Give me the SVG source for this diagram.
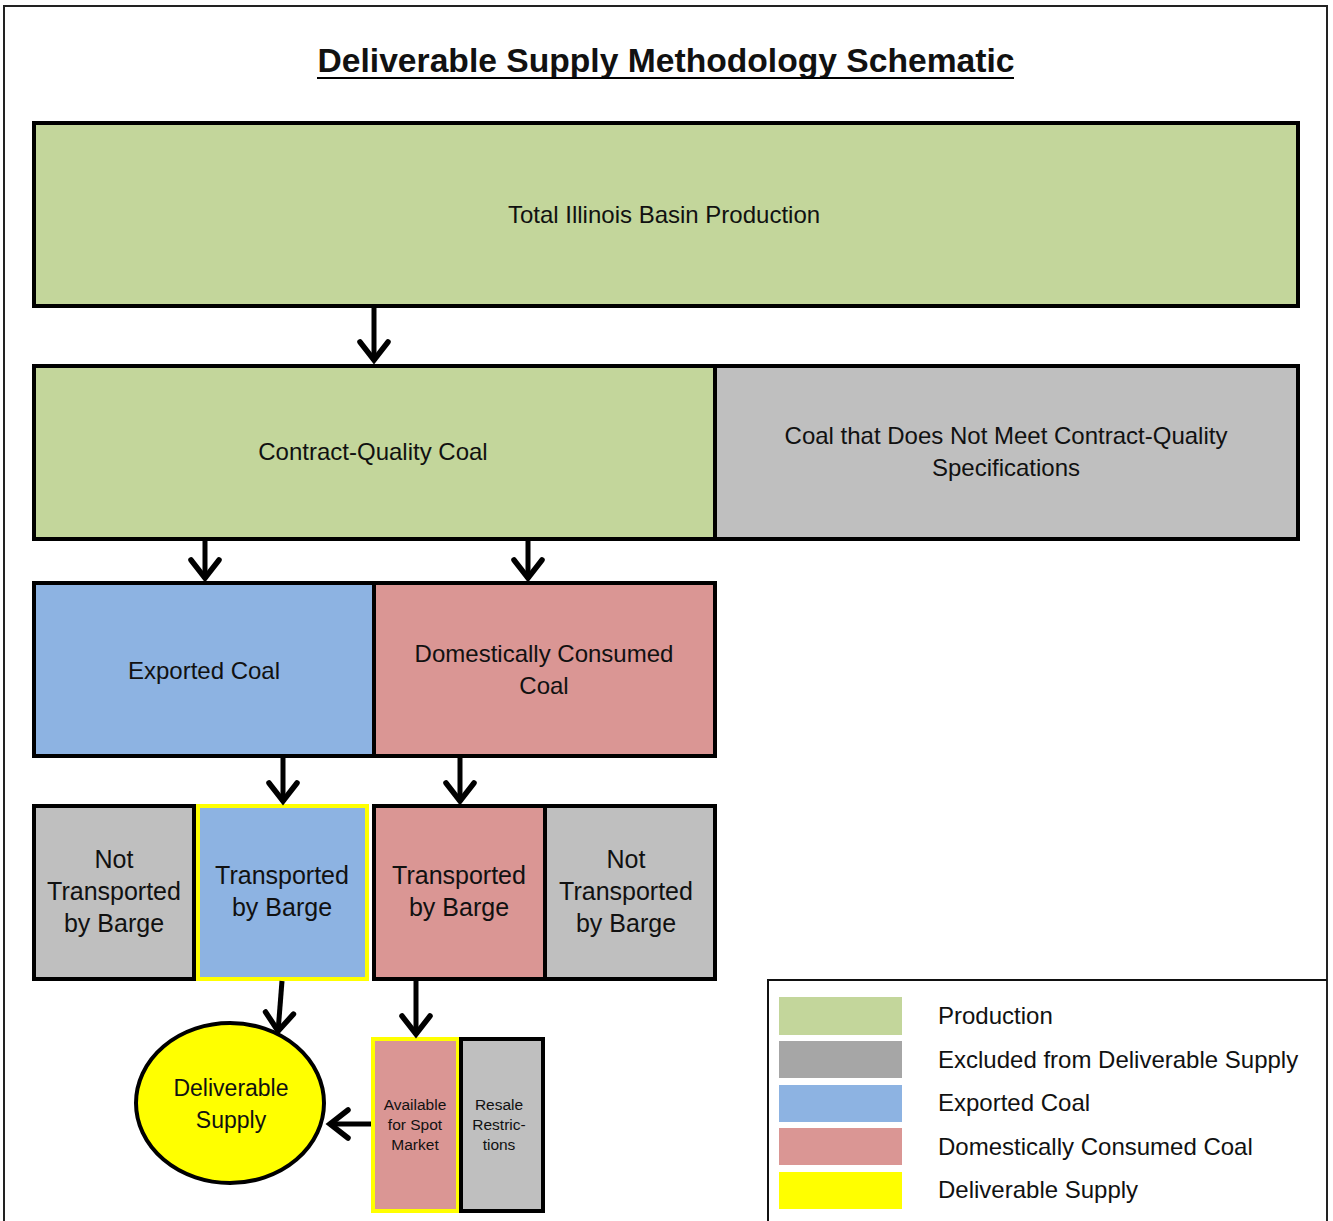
<svg xmlns="http://www.w3.org/2000/svg" width="1333" height="1221" viewBox="0 0 1333 1221">
<style>
.box{stroke:#000;stroke-width:4}
.yb{stroke:#FFFF00;stroke-width:4}
.g{fill:#C3D69B}
.gr{fill:#BFBFBF}
.bl{fill:#8DB3E2}
.pk{fill:#DA9694}
.ye{fill:#FFFF00}
text{font-family:"Liberation Sans",Arial,sans-serif;fill:#111;text-anchor:middle}
.t22{font-size:24px}
.t24{font-size:25px}
.t15{font-size:15.5px}
.lg{font-size:24px;text-anchor:start}
.conn{stroke:#000;stroke-width:5;fill:none}
</style>
<defs>
<marker id="ah" markerUnits="userSpaceOnUse" markerWidth="40" markerHeight="40" viewBox="-30 -20 40 40" refX="0" refY="0" orient="auto" overflow="visible">
<path d="M-19,-14 L-1,0 L-19,14" fill="none" stroke="#000" stroke-width="5.5" stroke-linecap="round" stroke-linejoin="miter"/>
</marker>
</defs>
<rect x="0" y="0" width="1333" height="1221" fill="#fff"/>
<g id="frame">
<path d="M4,1221 L4,6 L1327,6 L1327,1221" fill="none" stroke="#222" stroke-width="2"/>
</g>
<g id="title">
<text x="666" y="72" font-size="33" font-weight="bold" textLength="697" lengthAdjust="spacingAndGlyphs">Deliverable Supply Methodology Schematic</text>
<line x1="317" y1="78" x2="1014" y2="78" stroke="#000" stroke-width="2"/>
</g>
<g id="total">
<rect class="box g" x="34" y="123" width="1264" height="183"/>
<text class="t22" x="664" y="223">Total Illinois Basin Production</text>
</g>
<g id="contract">
<rect class="box g" x="34" y="366" width="681" height="173"/>
<text class="t22" x="373" y="460">Contract-Quality Coal</text>
</g>
<g id="notcontract">
<rect class="box gr" x="715" y="366" width="583" height="173"/>
<text class="t22" x="1006" y="444">Coal that Does Not Meet Contract-Quality</text>
<text class="t22" x="1006" y="476">Specifications</text>
</g>
<g id="exported">
<rect class="box bl" x="34" y="583" width="340" height="173"/>
<text class="t22" x="204" y="679">Exported Coal</text>
</g>
<g id="domestic">
<rect class="box pk" x="374" y="583" width="341" height="173"/>
<text class="t22" x="544" y="662">Domestically Consumed</text>
<text class="t22" x="544" y="694">Coal</text>
</g>
<g id="exp-notbarge">
<rect class="box gr" x="34" y="806" width="160" height="173"/>
<text class="t24" x="114" y="868">Not</text>
<text class="t24" x="114" y="900">Transported</text>
<text class="t24" x="114" y="932">by Barge</text>
</g>
<g id="exp-barge">
<rect class="yb bl" x="198" y="806" width="169" height="173"/>
<text class="t24" x="282" y="884">Transported</text>
<text class="t24" x="282" y="916">by Barge</text>
</g>
<g id="dom-barge">
<rect class="box pk" x="374" y="806" width="171" height="173"/>
<text class="t24" x="459" y="884">Transported</text>
<text class="t24" x="459" y="916">by Barge</text>
</g>
<g id="dom-notbarge">
<rect class="box gr" x="545" y="806" width="170" height="173"/>
<text class="t24" x="626" y="868">Not</text>
<text class="t24" x="626" y="900">Transported</text>
<text class="t24" x="626" y="932">by Barge</text>
</g>
<g id="deliverable">
<ellipse class="box ye" cx="230" cy="1103" rx="94" ry="80"/>
<text style="font-size:23px" x="231" y="1096">Deliverable</text>
<text style="font-size:23px" x="231" y="1128">Supply</text>
</g>
<g id="spot">
<rect class="yb pk" x="373" y="1039" width="85" height="172"/>
<text class="t15" x="415" y="1110">Available</text>
<text class="t15" x="415" y="1130">for Spot</text>
<text class="t15" x="415" y="1150">Market</text>
</g>
<g id="resale">
<rect class="box gr" x="461" y="1039" width="82" height="172"/>
<text class="t15" x="499" y="1110">Resale</text>
<text class="t15" x="499" y="1130">Restric-</text>
<text class="t15" x="499" y="1150">tions</text>
</g>
<g id="connectors">
<line class="conn" x1="374" y1="308" x2="374" y2="361" marker-end="url(#ah)"/>
<line class="conn" x1="205" y1="541" x2="205" y2="579" marker-end="url(#ah)"/>
<line class="conn" x1="528" y1="541" x2="528" y2="579" marker-end="url(#ah)"/>
<line class="conn" x1="283" y1="754" x2="283" y2="802" marker-end="url(#ah)"/>
<line class="conn" x1="460" y1="754" x2="460" y2="802" marker-end="url(#ah)"/>
<line class="conn" x1="282" y1="981" x2="278" y2="1032" marker-end="url(#ah)"/>
<line class="conn" x1="416" y1="981" x2="416" y2="1035" marker-end="url(#ah)"/>
<line class="conn" x1="371" y1="1124" x2="329" y2="1124" marker-end="url(#ah)"/>
</g>
<g id="legend">
<path d="M768,1221 L768,980 L1327,980" fill="none" stroke="#111" stroke-width="2"/>
<rect x="779" y="997" width="123" height="38" fill="#C3D69B"/>
<rect x="779" y="1041" width="123" height="37" fill="#A6A6A6"/>
<rect x="779" y="1085" width="123" height="37" fill="#8DB3E2"/>
<rect x="779" y="1128" width="123" height="37" fill="#DA9694"/>
<rect x="779" y="1172" width="123" height="37" fill="#FFFF00"/>
<text class="lg" x="938" y="1024">Production</text>
<text class="lg" x="938" y="1068">Excluded from Deliverable Supply</text>
<text class="lg" x="938" y="1111">Exported Coal</text>
<text class="lg" x="938" y="1155">Domestically Consumed Coal</text>
<text class="lg" x="938" y="1198">Deliverable Supply</text>
</g>
</svg>
